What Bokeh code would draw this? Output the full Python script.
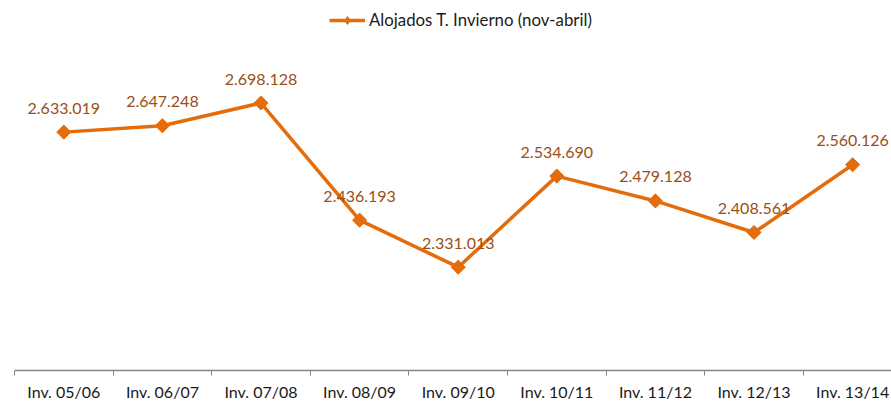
import math
from bokeh.plotting import figure
from bokeh.models import ColumnDataSource, Range1d, FixedTicker, Legend, LegendItem
from bokeh.core.properties import value
from bokeh.embed import file_html
from bokeh.resources import INLINE

categories = ["Inv. 05/06", "Inv. 06/07", "Inv. 07/08", "Inv. 08/09", "Inv. 09/10",
              "Inv. 10/11", "Inv. 11/12", "Inv. 12/13", "Inv. 13/14"]
alojados = [2633019, 2647248, 2698128, 2436193, 2331013, 2534690, 2479128, 2408561, 2560126]
series_name = "Alojados T. Invierno (nov-abril)"

xs = list(range(len(categories)))
labels = [f"{v:,}".replace(",", ".") for v in alojados]
src = ColumnDataSource(dict(x=xs, y=alojados, label=labels))

LINE = "#E46C0A"
LABEL = "#9A4F14"
FONT = "Lato"

p = figure(width=891, height=403, output_backend="svg", toolbar_location=None,
           x_range=Range1d(-0.5, 8.394), y_range=Range1d(2100000, 2927328))
p.min_border_left = 14
p.min_border_right = 0
p.min_border_top = 0
p.min_border_bottom = 0
p.outline_line_color = None
p.background_fill_color = "white"
p.border_fill_color = "white"
p.xgrid.visible = False
p.ygrid.visible = False
p.yaxis.visible = False

ln = p.line("x", "y", source=src, line_color=LINE, line_width=3.5)
mk = p.scatter("x", "y", source=src, marker="square", angle=math.pi / 4, size=10,
               fill_color=LINE, line_color=LINE)
mk_leg = p.scatter("x", "y", source=src, marker="diamond", size=12,
                   fill_color=LINE, line_color=LINE, visible=False)
p.text("x", "y", text="label", source=src, y_offset=-24, text_align="center",
       text_baseline="middle", text_color=LABEL, text_font=value(FONT), text_font_size="16px")

ax = p.xaxis[0]
ax.ticker = FixedTicker(ticks=xs, minor_ticks=[i - 0.5 for i in range(len(categories) + 1)])
ax.major_label_overrides = {i: c for i, c in enumerate(categories)}
ax.major_tick_line_color = None
ax.major_tick_out = 5
ax.major_tick_in = 0
ax.minor_tick_line_color = "#868686"
ax.minor_tick_out = 5
ax.minor_tick_in = 0
ax.axis_line_color = "#868686"
ax.axis_line_width = 1.5
ax.major_label_standoff = 6
ax.major_label_text_font = FONT
ax.major_label_text_font_size = "16px"
ax.major_label_text_line_height = 0.55
ax.major_label_text_color = "#1a1a1a"

legend = Legend(items=[LegendItem(label=series_name, renderers=[ln, mk_leg])],
                location=(315, 340), orientation="horizontal",
                label_text_font=FONT, label_text_font_size="16.8px", label_text_color="#1a1a1a",
                glyph_width=36, glyph_height=20, label_height=20, padding=0, margin=0,
                spacing=0, label_standoff=4, border_line_color=None, background_fill_alpha=0)
p.add_layout(legend)

open("out.html", "w").write(file_html(p, INLINE))
